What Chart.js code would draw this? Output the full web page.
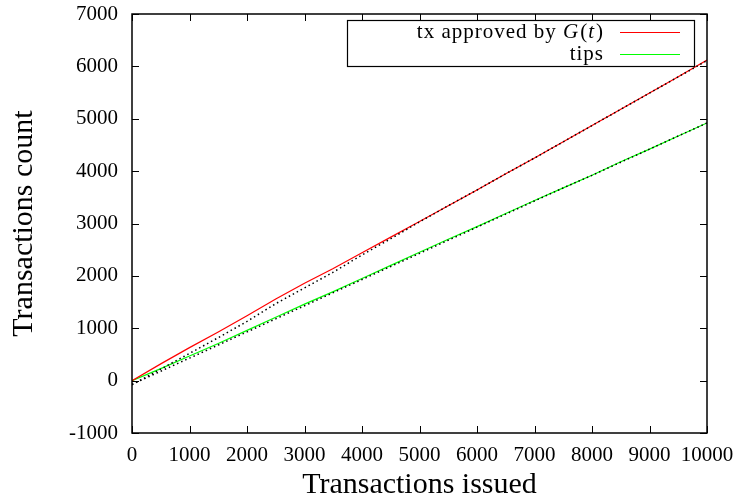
<!DOCTYPE html>
<html lang="en">
<head>
    <meta charset="UTF-8">
    <title>Transactions count vs issued</title>
    <script src="https://cdn.jsdelivr.net/npm/chart.js"></script>
    <style>
        html, body { margin: 0; padding: 0; background: #fff; }
        .chart-box { width: 742px; height: 500px; }
    </style>
</head>
<body>
    <div class="chart-box">
        <canvas id="txChart"></canvas>
    </div>

    <script>
        // values
        const issued = [0, 500, 1000, 1500, 2000, 2500, 3000, 3500, 4000, 4500, 5000,
                        5500, 6000, 6500, 7000, 7500, 8000, 8500, 9000, 9500, 10000];
        const approved = [0, 320, 630, 930, 1240, 1560, 1860, 2140, 2440, 2740, 3040,
                          3340, 3640, 3950, 4250, 4560, 4870, 5180, 5490, 5800, 6120];
        const approvedFit = [-80, 220, 520, 820, 1130, 1470, 1770, 2070, 2400, 2710, 3030,
                             3340, 3640, 3950, 4250, 4560, 4870, 5180, 5490, 5800, 6110];
        const tips = [0, 230, 470, 710, 960, 1210, 1460, 1700, 1950, 2200, 2450,
                      2700, 2940, 3190, 3440, 3680, 3920, 4180, 4420, 4670, 4920];
        const tipsFit = [-70, 180, 430, 680, 930, 1180, 1430, 1680, 1930, 2180, 2430,
                         2680, 2930, 3180, 3430, 3680, 3920, 4170, 4420, 4670, 4920];

        const xTicks = [0, 1000, 2000, 3000, 4000, 5000, 6000, 7000, 8000, 9000, 10000];
        const yTicks = [-1000, 0, 1000, 2000, 3000, 4000, 5000, 6000, 7000];

        const serif = '"Liberation Serif", "DejaVu Serif", serif';

        function pts(ys) {
            return issued.map((x, i) => ({ x: x, y: ys[i] }));
        }

        // gnuplot style frame: box border, inward ticks on all four sides, key box
        const framePlugin = {
            id: 'frame',
            afterDatasetsDraw(chart) {
                const ctx = chart.ctx;
                const a = chart.chartArea;
                const xs = chart.scales.x;
                const ys = chart.scales.y;
                const tl = 7;
                ctx.save();
                ctx.strokeStyle = '#000';
                ctx.lineWidth = 1;
                ctx.beginPath();
                xTicks.forEach(v => {
                    const px = Math.round(xs.getPixelForValue(v)) + 0.5;
                    ctx.moveTo(px, a.bottom); ctx.lineTo(px, a.bottom - tl);
                    ctx.moveTo(px, a.top); ctx.lineTo(px, a.top + tl);
                });
                yTicks.forEach(v => {
                    const py = Math.round(ys.getPixelForValue(v)) + 0.5;
                    ctx.moveTo(a.left, py); ctx.lineTo(a.left + tl, py);
                    ctx.moveTo(a.right, py); ctx.lineTo(a.right - tl, py);
                });
                ctx.stroke();

                ctx.lineWidth = 1.5;
                ctx.strokeRect(a.left, a.top, a.right - a.left, a.bottom - a.top);

                // key
                const kx = 347, ky = 20, kw = 347, kh = 46;
                ctx.fillStyle = '#fff';
                ctx.fillRect(kx, ky, kw, kh);
                ctx.lineWidth = 1.2;
                ctx.strokeRect(kx + 0.5, ky + 0.5, kw, kh);

                const textRight = 604;
                const rows = [
                    { y: 32, color: '#ff0000', parts: [['tx approved by ', ''], ['G', 'italic '], ['(', ''], ['t', 'italic '], [')', '']] },
                    { y: 54, color: '#00ff00', parts: [['tips', '']] }
                ];
                ctx.fillStyle = '#000';
                ctx.textBaseline = 'middle';
                ctx.textAlign = 'left';
                ctx.letterSpacing = '1px';
                rows.forEach(r => {
                    let total = 0;
                    r.parts.forEach(p => {
                        ctx.font = p[1] + '21px ' + serif;
                        total += ctx.measureText(p[0]).width + (p[1] ? 1 : 0);
                    });
                    let x = textRight - total;
                    r.parts.forEach(p => {
                        ctx.font = p[1] + '21px ' + serif;
                        ctx.fillText(p[0], x, r.y);
                        x += ctx.measureText(p[0]).width + (p[1] ? 1 : 0);
                    });
                    ctx.strokeStyle = r.color;
                    ctx.lineWidth = 1.2;
                    ctx.beginPath();
                    ctx.moveTo(620, r.y + 0.5);
                    ctx.lineTo(680, r.y + 0.5);
                    ctx.stroke();
                });
                ctx.restore();
            }
        };

        const ctx = document.getElementById('txChart').getContext('2d');
        new Chart(ctx, {
            type: 'line',
            data: {
                datasets: [
                    {
                        label: 'fit approved',
                        data: pts(approvedFit),
                        borderColor: '#000',
                        borderWidth: 1.5,
                        borderDash: [1.5, 3],
                        pointRadius: 0,
                        order: 0
                    },
                    {
                        label: 'fit tips',
                        data: pts(tipsFit),
                        borderColor: '#000',
                        borderWidth: 1.5,
                        borderDash: [1.5, 3],
                        pointRadius: 0,
                        order: 1
                    },
                    {
                        label: 'tx approved by G(t)',
                        data: pts(approved),
                        borderColor: '#ff0000',
                        borderWidth: 1.2,
                        pointRadius: 0,
                        order: 2
                    },
                    {
                        label: 'tips',
                        data: pts(tips),
                        borderColor: '#00ff00',
                        borderWidth: 1.2,
                        pointRadius: 0,
                        order: 3
                    }
                ]
            },
            options: {
                responsive: true,
                maintainAspectRatio: false,
                animation: false,
                layout: { padding: { top: 14, right: 35, left: 0, bottom: 0 } },
                plugins: {
                    legend: { display: false },
                    tooltip: { enabled: false }
                },
                scales: {
                    x: {
                        type: 'linear',
                        min: 0,
                        max: 10000,
                        afterFit(scale) {
                            scale.height = 67;
                            scale.paddingLeft = 0;
                            scale.paddingRight = 0;
                        },
                        afterBuildTicks(scale) { scale.ticks = xTicks.map(v => ({ value: v })); },
                        grid: { display: false, drawTicks: false },
                        border: { display: false },
                        ticks: {
                            padding: 10,
                            color: '#000',
                            maxRotation: 0,
                            autoSkip: false,
                            callback: v => String(v),
                            font: { family: serif, size: 21 }
                        },
                        title: {
                            display: true,
                            text: 'Transactions issued',
                            color: '#000',
                            padding: { top: 0, bottom: 0 },
                            font: { family: serif, size: 30, lineHeight: 1 }
                        }
                    },
                    y: {
                        type: 'linear',
                        min: -1000,
                        max: 7000,
                        afterFit(scale) {
                            scale.width = 132;
                            scale.paddingTop = 0;
                            scale.paddingBottom = 0;
                        },
                        afterBuildTicks(scale) { scale.ticks = yTicks.map(v => ({ value: v })); },
                        grid: { display: false, drawTicks: false },
                        border: { display: false },
                        ticks: {
                            padding: 14,
                            color: '#000',
                            autoSkip: false,
                            callback: v => String(v),
                            font: { family: serif, size: 21 }
                        },
                        title: {
                            display: true,
                            text: 'Transactions count',
                            color: '#000',
                            padding: { top: 9, bottom: 0 },
                            font: { family: serif, size: 30, lineHeight: 1 }
                        }
                    }
                }
            },
            plugins: [framePlugin]
        });
    </script>
</body>
</html>
